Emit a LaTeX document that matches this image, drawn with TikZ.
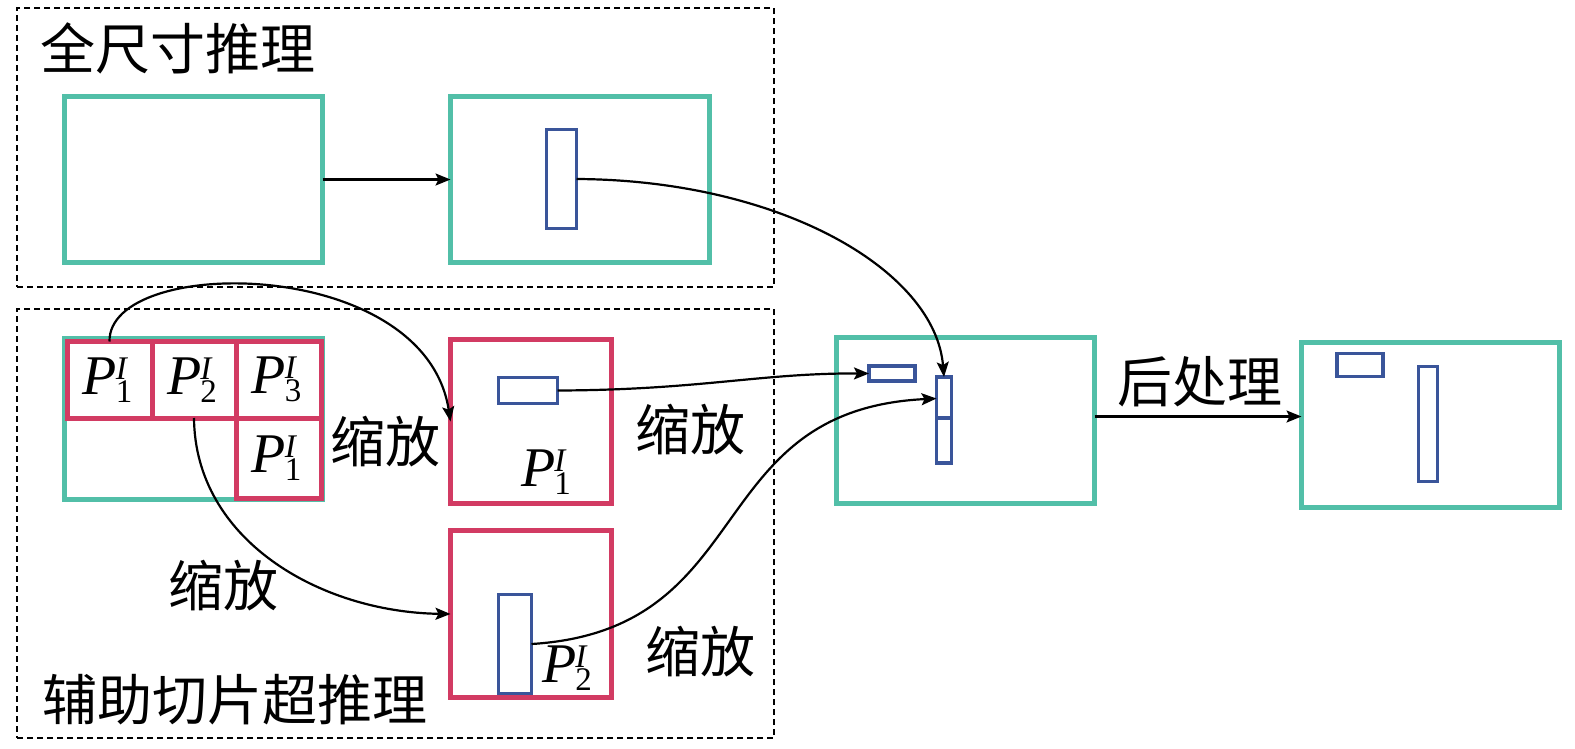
\documentclass[tikz,border=0pt]{standalone}
\usepackage{fontspec}
\newfontfamily\cjk{Noto Sans CJK SC}
\newfontfamily\pfont{Liberation Serif}
\usetikzlibrary{arrows.meta,calc}
\definecolor{tealc}{HTML}{52BFA8}
\definecolor{redc}{HTML}{D23B63}
\definecolor{bluec}{HTML}{3A559A}
\newcommand\plab[1]{{\pfont\fontsize{56}{56}\selectfont\itshape P}\kern-1pt\rlap{\raisebox{15pt}{\pfont\fontsize{33}{33}\selectfont\itshape I}}\raisebox{-8pt}{\pfont\fontsize{33}{33}\selectfont #1}}
\begin{document}
\begin{tikzpicture}[x=1pt,y=-1pt,
  tealbox/.style={draw=tealc,line width=5pt,inner sep=0pt,outer sep=0pt},
  redbox/.style={draw=redc,line width=5pt,inner sep=0pt,outer sep=0pt},
  bluebox/.style={draw=bluec,line width=3.2pt,inner sep=0pt,outer sep=0pt},
  groupbox/.style={draw=black,line width=2pt,dash pattern=on 6pt off 4pt,inner sep=0pt,outer sep=0pt},
  conn/.style={draw=black,line width=2.2pt,-{Stealth[length=15pt,width=12pt,inset=3pt]}},
  cjklbl/.style={font=\cjk\fontsize{55}{60}\selectfont,inner sep=0pt},
  plbl/.style={inner sep=0pt}
]
\useasboundingbox (0,0) rectangle (1575,748);
% group boxes
\node[groupbox,minimum width=757pt,minimum height=279pt] (topgrp) at (395.5,147.5) {};
\node[groupbox,minimum width=757pt,minimum height=429pt] (botgrp) at (395.5,523.5) {};
\node[cjklbl] (t1) at (178,48) {全尺寸推理};
\node[cjklbl] (t2) at (235,700) {辅助切片超推理};
% top row
\node[tealbox,minimum width=258pt,minimum height=166pt] (full) at (193.5,179.5) {};
\node[tealbox,minimum width=259pt,minimum height=166pt] (fullres) at (580,179.5) {};
\node[bluebox,minimum width=30pt,minimum height=99pt] (bt) at (561.5,179) {};
% slice grid
\node[tealbox,minimum width=258pt,minimum height=161pt] (grid) at (193.5,419) {};
\node[redbox,minimum width=85pt,minimum height=76.5pt] (c1) at (109.5,379.75) {};
\node[redbox,minimum width=84pt,minimum height=76.5pt] (c2) at (194,379.75) {};
\node[redbox,minimum width=85pt,minimum height=76.5pt] (c3) at (278.5,379.75) {};
\node[redbox,minimum width=85pt,minimum height=80.5pt] (c4) at (278.5,458.25) {};
\node[plbl] (l1) at ([xshift=-2pt]c1) {\plab{1}};
\node[plbl] (l2) at ([xshift=-2pt]c2) {\plab{2}};
\node[plbl] (l3) at ([xshift=-2pt]c3) {\plab{3}};
\node[plbl] (l4) at ([xshift=-2pt]c4) {\plab{1}};
% scaled slices
\node[redbox,minimum width=161pt,minimum height=164pt] (ra) at (531,421.5) {};
\node[bluebox,minimum width=59pt,minimum height=26pt] (ba) at (528,390.5) {};
\node[plbl] (la) at (546,472) {\plab{1}};
\node[redbox,minimum width=161pt,minimum height=167pt] (rb) at (531,614) {};
\node[bluebox,minimum width=33pt,minimum height=99pt] (bb) at (515,644) {};
\node[plbl] (lb) at (567,668) {\plab{2}};
% merged
\node[tealbox,minimum width=258pt,minimum height=166pt] (mid) at (965.5,420.5) {};
\node[bluebox,minimum width=46pt,minimum height=15pt] (ms) at (892,373.5) {};
\node[bluebox,minimum width=15pt,minimum height=86pt] (mt) at (944,420) {};
\draw[draw=bluec,line width=3.2pt] ($(mt.north west)!0.477!(mt.south west)$) coordinate (dv1) -- ($(mt.north east)!0.477!(mt.south east)$) coordinate (dv2);
\coordinate (mtin) at ($(mt.north west)!0.25!(mt.south west)$);
% result
\node[tealbox,minimum width=258pt,minimum height=165pt] (res) at (1430.5,425) {};
\node[bluebox,minimum width=46pt,minimum height=23pt] (rs) at (1360,365) {};
\node[bluebox,minimum width=19pt,minimum height=115pt] (rt) at (1428,424) {};
% labels
\node[cjklbl] (s1) at (385,442) {缩放};
\node[cjklbl] (s2) at (223,586) {缩放};
\node[cjklbl] (s3) at (690,430) {缩放};
\node[cjklbl] (s4) at (700,652) {缩放};
\node[cjklbl] (pp) at (1200,382) {后处理};
% connectors
\draw[conn] (full.east) -- (fullres.west);
\draw[conn] (bt.east) .. controls (780,180) and (935,270) .. (mt.north);
\draw[conn] (c1.north) .. controls (108,255) and (425,255) .. (ra.west);
\draw[conn] (c2.south) .. controls (195,540) and (320,612) .. (rb.west);
\draw[conn] (ba.east) .. controls (700,390) and (760,373) .. (ms.west);
\draw[conn] (bb.east) .. controls (760,630) and (700,410) .. (mtin);
\coordinate (ppend) at (mid.east -| res.west);
\draw[conn] ([yshift=4pt]mid.east) -- ([yshift=4pt]ppend);
\end{tikzpicture}
\end{document}
